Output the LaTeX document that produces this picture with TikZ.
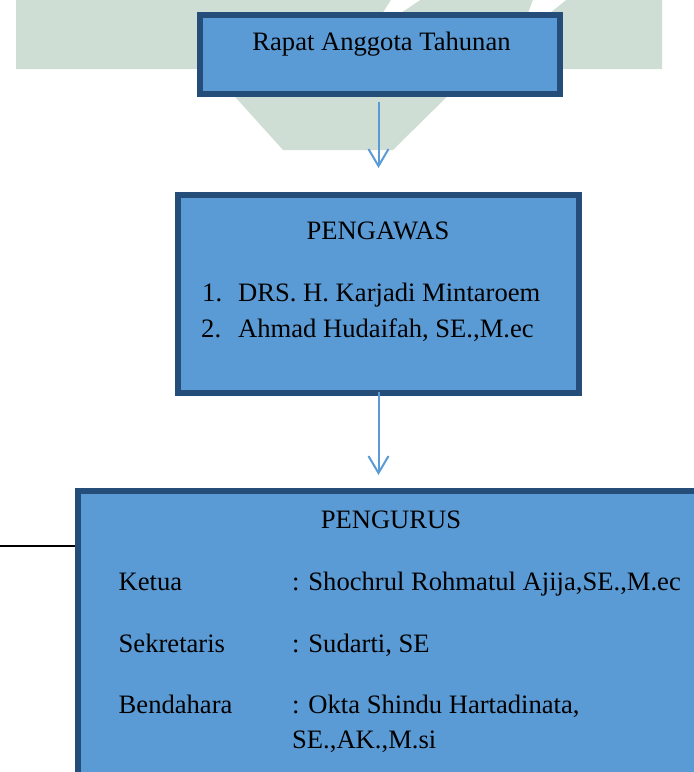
\documentclass[tikz,border=0pt]{standalone}
\usepackage{fontspec}
\setmainfont{Liberation Serif}
\usetikzlibrary{arrows.meta}
\definecolor{wm}{RGB}{207,222,213}
\definecolor{boxfill}{RGB}{91,155,213}
\definecolor{boxline}{RGB}{37,77,121}
\definecolor{arrowc}{RGB}{91,155,213}
\begin{document}
\begin{tikzpicture}[x=1pt,y=-1pt,
  box/.style={draw=boxline, fill=boxfill, line width=6pt, rectangle, inner sep=0pt},
  txt/.style={inner sep=0pt, font=\fontsize{26.6}{32}\selectfont, text=black},
  arr/.style={draw=arrowc, line width=2pt, -{Straight Barb[length=17pt,width=20pt]}}]
\useasboundingbox (0,0) rectangle (694,772);
% watermark
\fill[wm] (16,0) -- (662,0) -- (662,69) -- (475,69) -- (393,150) -- (283,150) -- (210,69) -- (16,69) -- cycle;
\fill[white] (391,0) -- (420,0) -- (396,16) -- (381,16) -- cycle;
\fill[white] (533,0) -- (566,0) -- (546,16) -- (527,16) -- cycle;
% boxes
\node[box, minimum width=360pt, minimum height=79pt] (rat) at (380,54.5) {};
\node[box, minimum width=401pt, minimum height=198pt] (pw) at (378.5,294) {};
\node[box, minimum width=632.5pt, minimum height=299pt] (pgr) at (393.75,640.5) {};
% texts
\node[txt, anchor=base] (t1) at (381.5,50) {Rapat Anggota Tahunan};
\node[txt, anchor=base] (t2) at (378,239) {PENGAWAS};
\node[txt, anchor=base west] (n1) at (202,301) {1.};
\node[txt, anchor=base west] (i1) at (238,301) {DRS. H. Karjadi Mintaroem};
\node[txt, anchor=base west] (n2) at (201,337) {2.};
\node[txt, anchor=base west] (i2) at (238,337) {Ahmad Hudaifah, SE.,M.ec};
\node[txt, anchor=base] (t3) at (391,528) {PENGURUS};
\node[txt, anchor=base west] (k1) at (118.5,590) {Ketua};
\node[txt, anchor=base west] (k2) at (292,590) {: Shochrul Rohmatul Ajija,SE.,M.ec};
\node[txt, anchor=base west] (s1) at (118.5,652) {Sekretaris};
\node[txt, anchor=base west] (s2) at (292,652) {: Sudarti, SE};
\node[txt, anchor=base west] (b1) at (118.5,713) {Bendahara};
\node[txt, anchor=base west] (b2) at (292,713) {: Okta Shindu Hartadinata,};
\node[txt, anchor=base west] (b3) at (292,748) {SE.,AK.,M.si};
% connectors
\draw[arr, shorten <=5pt, shorten >=24pt] (rat.south -| pw.north) -- (pw.north);
\draw[arr, shorten <=-4pt, shorten >=13pt] (pw.south) -- (pw.south |- pgr.north);
\coordinate (lstart) at (0,546);
\draw[black, line width=2pt] (lstart) -- (lstart -| pgr.west);
\end{tikzpicture}
\end{document}
